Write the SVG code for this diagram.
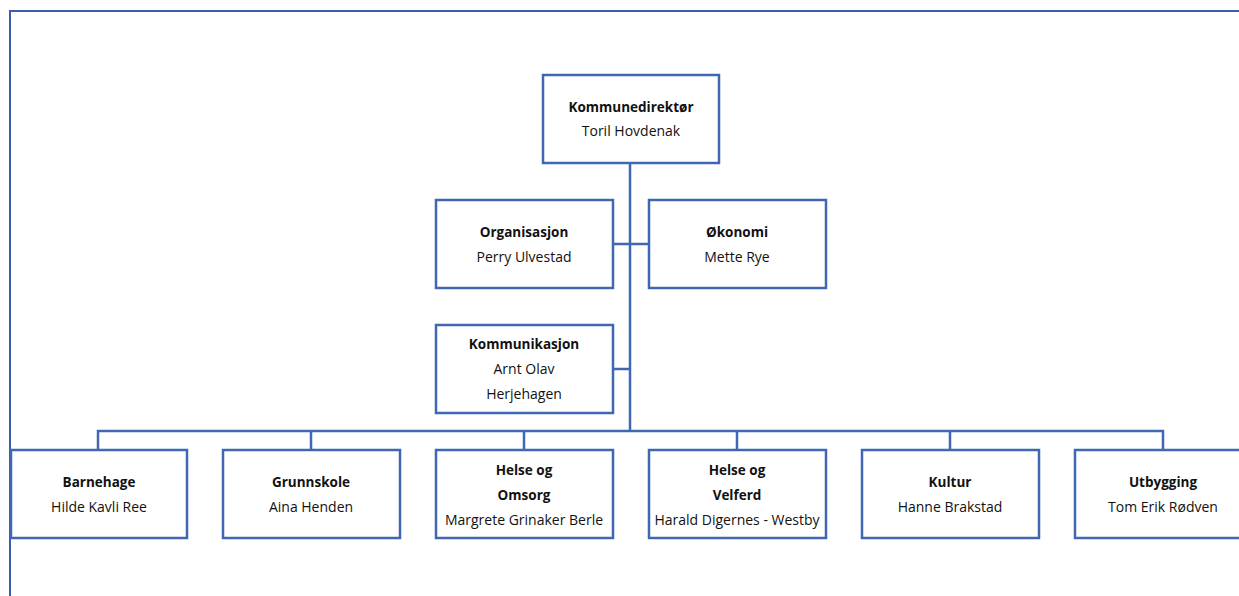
<svg xmlns="http://www.w3.org/2000/svg" width="1239" height="596" viewBox="0 0 1239 596">
<style>
.box{fill:#fff;stroke:#4068B2;stroke-width:2.5}
.ln{fill:none;stroke:#4068B2;stroke-width:2.5}
.fr{fill:none;stroke:#3A5FAA;stroke-width:2}
text{font-family:"Open Sans","Liberation Sans",sans-serif;font-size:14px;fill:#111;text-anchor:middle}
.b{font-weight:bold;font-size:13.5px}
</style>
<rect width="1239" height="596" fill="#fff"/>
<path class="fr" d="M10,596 V11 H1239"/>
<g id="connectors">
<path class="ln" d="M630,163 V431"/>
<path class="ln" d="M613,244 H649"/>
<path class="ln" d="M613,369 H630"/>
<path class="ln" d="M98,450 V431 H1163 V450"/>
<path class="ln" d="M311,431 V450 M524,431 V450 M737,431 V450 M950,431 V450"/>
</g>
<g id="n-kommunedirektor">
<rect class="box" x="543" y="75" width="176" height="88"/>
<text class="b" x="631" y="112">Kommunedirektør</text>
<text x="631" y="136">Toril Hovdenak</text>
</g>
<g id="n-organisasjon">
<rect class="box" x="436" y="200" width="177" height="88"/>
<text class="b" x="524" y="237">Organisasjon</text>
<text x="524" y="262">Perry Ulvestad</text>
</g>
<g id="n-okonomi">
<rect class="box" x="649" y="200" width="177" height="88"/>
<text class="b" x="737" y="237">Økonomi</text>
<text x="737" y="262">Mette Rye</text>
</g>
<g id="n-kommunikasjon">
<rect class="box" x="436" y="325" width="177" height="88"/>
<text class="b" x="524" y="349">Kommunikasjon</text>
<text x="524" y="374">Arnt Olav</text>
<text x="524" y="399">Herjehagen</text>
</g>
<g id="n-barnehage">
<rect class="box" x="11" y="450" width="176" height="88"/>
<text class="b" x="99" y="487">Barnehage</text>
<text x="99" y="512">Hilde Kavli Ree</text>
</g>
<g id="n-grunnskole">
<rect class="box" x="223" y="450" width="177" height="88"/>
<text class="b" x="311" y="487">Grunnskole</text>
<text x="311" y="512">Aina Henden</text>
</g>
<g id="n-helse-omsorg">
<rect class="box" x="436" y="450" width="177" height="88"/>
<text class="b" x="524" y="475">Helse og</text>
<text class="b" x="524" y="500">Omsorg</text>
<text x="524" y="525">Margrete Grinaker Berle</text>
</g>
<g id="n-helse-velferd">
<rect class="box" x="649" y="450" width="177" height="88"/>
<text class="b" x="737" y="475">Helse og</text>
<text class="b" x="737" y="500">Velferd</text>
<text x="737" y="525">Harald Digernes - Westby</text>
</g>
<g id="n-kultur">
<rect class="box" x="862" y="450" width="177" height="88"/>
<text class="b" x="950" y="487">Kultur</text>
<text x="950" y="512">Hanne Brakstad</text>
</g>
<g id="n-utbygging">
<rect class="box" x="1075" y="450" width="177" height="88"/>
<text class="b" x="1163" y="487">Utbygging</text>
<text x="1163" y="512">Tom Erik Rødven</text>
</g>
</svg>
